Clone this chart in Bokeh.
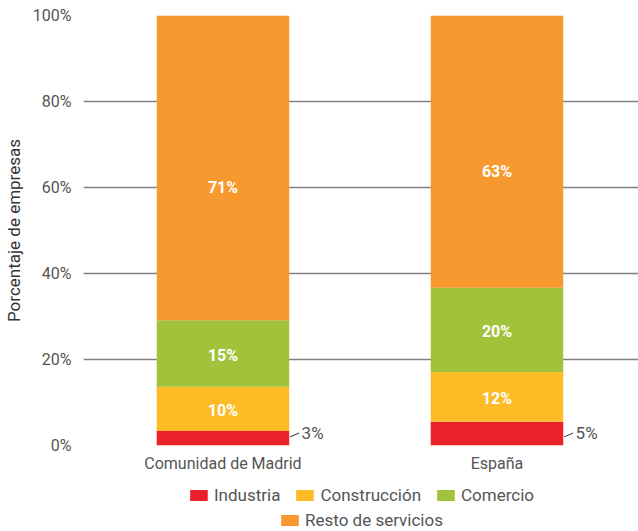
from bokeh.plotting import figure
from bokeh.layouts import column
from bokeh.models import (ColumnDataSource, Range1d, FixedTicker, PrintfTickFormatter,
                          Legend, LegendItem)
from bokeh.embed import file_html
from bokeh.resources import INLINE
from bokeh.core.properties import value

# ---------------- data ----------------
categories = ["Comunidad de Madrid", "España"]
series = ["Industria", "Construcción", "Comercio", "Resto de servicios"]
industria = [3.4, 5.5]
construccion = [10.25, 11.6]
comercio = [15.5, 19.6]
resto = [70.85, 63.3]
labels_industria = ["3%", "5%"]
labels_construccion = ["10%", "12%"]
labels_comercio = ["15%", "20%"]
labels_resto = ["71%", "63%"]
y_ticks = [0, 20, 40, 60, 80, 100]
colors = ["#EC2028", "#FDBB26", "#A1C33B", "#F7992E"]

# ---------------- style ----------------
FONT = "Roboto"
TEXT_COLOR = "#555555"
BAR_WIDTH = 0.4836
OUT_LABEL_Y = 3.0

xs = list(range(len(categories)))
keys = ["ind", "con", "com", "res"]
src = ColumnDataSource(dict(x=xs, ind=industria, con=construccion, com=comercio, res=resto))

p = figure(width=638, height=475, output_backend="svg", toolbar_location=None,
           x_range=Range1d(-0.509, 1.5165), y_range=Range1d(0, 100),
           min_border_top=15, min_border_left=81, min_border_right=0, min_border_bottom=30)
p.outline_line_color = None
p.background_fill_color = "white"

rs = p.vbar_stack(keys, x="x", width=BAR_WIDTH, fill_color=colors, line_color=None, source=src)

# inside labels
lx, ly, lt, lo = [], [], [], []
all_vals = [industria, construccion, comercio, resto]
all_labels = [labels_industria, labels_construccion, labels_comercio, labels_resto]
for ci, xv in enumerate(xs):
    bottom = 0.0
    for si, vals in enumerate(all_vals):
        v = vals[ci]
        if si > 0:
            lx.append(xv)
            ly.append(bottom + v / 2.0)
            lt.append(all_labels[si][ci])
            lo.append(20 if si == 3 else 2)
        bottom += v
lsrc = ColumnDataSource(dict(x=lx, y=ly, t=lt, yo=lo))
p.text(x="x", y="y", text="t", y_offset="yo", source=lsrc, text_color="white",
       text_font=value(FONT), text_font_size="16px", text_font_style="bold",
       text_align="center", text_baseline="middle")

# outside labels (Industria)
osrc = ColumnDataSource(dict(
    x=[xv + 0.287 for xv in xs], y=[OUT_LABEL_Y] * len(xs), t=labels_industria,
    x0=[xv + 0.245 for xv in xs], y0=[OUT_LABEL_Y - 1.0] * len(xs),
    x1=[xv + 0.278 for xv in xs], y1=[OUT_LABEL_Y - 0.1] * len(xs)))
p.segment(x0="x0", y0="y0", x1="x1", y1="y1", source=osrc, line_color="#333333", line_width=1)
p.text(x="x", y="y", text="t", source=osrc, text_color=TEXT_COLOR,
       text_font=value(FONT), text_font_size="17px",
       text_align="left", text_baseline="middle")

# axes
p.yaxis.ticker = FixedTicker(ticks=y_ticks)
p.yaxis.formatter = PrintfTickFormatter(format="%d%%")
p.yaxis.axis_line_color = None
p.yaxis.major_tick_line_color = None
p.yaxis.minor_tick_line_color = None
p.yaxis.major_label_text_font = FONT
p.yaxis.major_label_text_font_size = "16px"
p.yaxis.major_label_text_color = TEXT_COLOR
p.yaxis.major_label_standoff = 6
p.yaxis.axis_label = "Porcentaje de empresas"
p.yaxis.axis_label_text_font = FONT
p.yaxis.axis_label_text_font_size = "17px"
p.yaxis.axis_label_text_font_style = "normal"
p.yaxis.axis_label_text_color = "#333333"
p.yaxis.axis_label_standoff = 6

p.xaxis.ticker = FixedTicker(ticks=xs)
p.xaxis.major_label_overrides = {i: c for i, c in zip(xs, categories)}
p.xaxis.axis_line_color = None
p.xaxis.major_tick_line_color = None
p.xaxis.minor_tick_line_color = None
p.xaxis.major_label_text_font = FONT
p.xaxis.major_label_text_font_size = "16px"
p.xaxis.major_label_text_color = TEXT_COLOR
p.xaxis.major_label_standoff = 2

p.ygrid.ticker = FixedTicker(ticks=y_ticks)
p.ygrid.grid_line_color = "#808080"
p.ygrid.grid_line_width = 1.3
p.xgrid.grid_line_color = None

# ---------------- legend strip (separate figure below) ----------------
pl = figure(width=638, height=56, output_backend="svg", toolbar_location=None,
            x_range=Range1d(0, 1), y_range=Range1d(0, 1),
            x_axis_location=None, y_axis_location=None,
            min_border_top=0, min_border_left=81, min_border_right=0, min_border_bottom=0)
pl.outline_line_color = None
pl.grid.grid_line_color = None
# zero-height placeholder bars: they draw nothing but give the legend its swatches
lrs = [pl.vbar(x=[0], top=[0], bottom=[0], width=0, fill_color=c, line_color=None)
       for c in colors]

def make_legend(idx, loc, margin):
    leg = Legend(items=[LegendItem(label=series[i], renderers=[lrs[i]]) for i in idx],
                 orientation="horizontal", location=loc)
    leg.border_line_color = None
    leg.background_fill_alpha = 0
    leg.glyph_width = 22
    leg.glyph_height = 14
    leg.label_text_font = FONT
    leg.label_text_font_size = "17px"
    leg.label_text_color = TEXT_COLOR
    leg.label_standoff = 5
    leg.label_height = 20
    leg.spacing = 13
    leg.padding = 0
    leg.margin = margin
    return leg

pl.add_layout(make_legend([0, 1, 2], "top_center", 10), "center")
pl.add_layout(make_legend([3], "bottom_center", 1), "center")

layout = column(p, pl, spacing=0)
open("out.html", "w").write(file_html(layout, INLINE))
